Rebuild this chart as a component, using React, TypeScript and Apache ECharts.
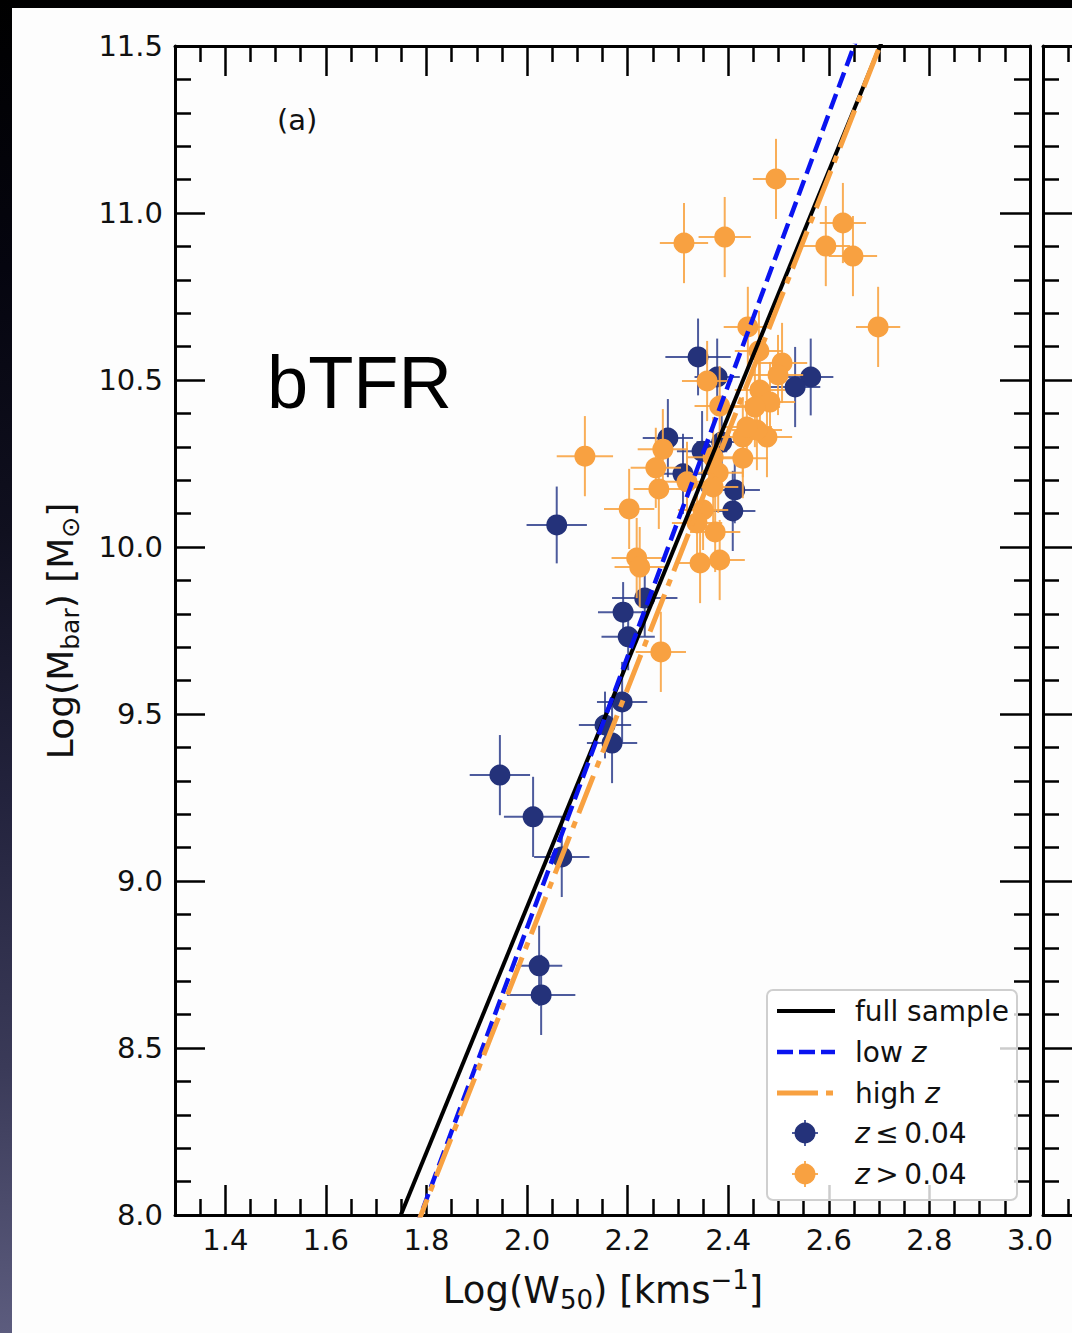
import React, { useEffect, useRef } from 'react';
import * as echarts from 'echarts';

// ---------- data ----------
const xMajorTicks = [1.4, 1.6, 1.8, 2.0, 2.2, 2.4, 2.6, 2.8, 3.0];
const xMinorTicks = [1.35, 1.45, 1.5, 1.55, 1.65, 1.7, 1.75, 1.85, 1.9, 1.95, 2.05, 2.1, 2.15, 2.25, 2.3, 2.35, 2.45, 2.5, 2.55, 2.65, 2.7, 2.75, 2.85, 2.9, 2.95];
const xMin = 1.3;
const xMax = 3.0;
// visible sliver of the neighbouring panel (b)
const panelBXMax = 1.3577;
const yMin = 8.0;
const yMax = 11.5;
const yInterval = 0.5;
const yMinorSplit = 5;

// z <= 0.04 (low z)
const lowZX = [2.059, 2.340, 2.378, 2.280, 2.348, 2.387, 2.310, 2.413, 2.409, 2.564, 2.533, 2.234, 2.191, 2.201, 2.189, 2.155, 2.169, 1.946, 2.012, 2.069, 2.024, 2.028];
const lowZY = [10.066, 10.569, 10.509, 10.326, 10.287, 10.314, 10.219, 10.171, 10.108, 10.509, 10.479, 9.847, 9.805, 9.731, 9.536, 9.467, 9.413, 9.317, 9.192, 9.072, 8.746, 8.659];
const lowZXErr = [0.060, 0.065, 0.045, 0.050, 0.050, 0.050, 0.050, 0.050, 0.045, 0.045, 0.050, 0.065, 0.050, 0.053, 0.050, 0.052, 0.050, 0.060, 0.058, 0.055, 0.046, 0.068];
const lowZYErr = [0.115, 0.115, 0.115, 0.117, 0.12, 0.12, 0.12, 0.10, 0.12, 0.115, 0.12, 0.115, 0.09, 0.10, 0.12, 0.10, 0.12, 0.12, 0.12, 0.12, 0.12, 0.12];

// z > 0.04 (high z)
const highZX = [2.495, 2.312, 2.393, 2.628, 2.594, 2.648, 2.698, 2.439, 2.461, 2.507, 2.499, 2.358, 2.383, 2.463, 2.483, 2.453, 2.429, 2.477, 2.457, 2.429, 2.380, 2.370, 2.115, 2.270, 2.256, 2.262, 2.318, 2.203, 2.218, 2.224, 2.266, 2.344, 2.383, 2.350, 2.338, 2.374, 2.437, 2.370];
const highZY = [11.102, 10.910, 10.928, 10.970, 10.901, 10.871, 10.659, 10.659, 10.587, 10.551, 10.515, 10.497, 10.422, 10.470, 10.434, 10.419, 10.329, 10.329, 10.350, 10.266, 10.222, 10.180, 10.272, 10.293, 10.237, 10.174, 10.195, 10.114, 9.967, 9.940, 9.686, 9.952, 9.961, 10.111, 10.072, 10.045, 10.359, 10.269];
const highZXErr = [0.046, 0.048, 0.052, 0.046, 0.048, 0.048, 0.044, 0.048, 0.048, 0.05, 0.05, 0.05, 0.05, 0.05, 0.05, 0.05, 0.05, 0.05, 0.05, 0.05, 0.05, 0.05, 0.056, 0.05, 0.05, 0.05, 0.05, 0.05, 0.05, 0.05, 0.05, 0.05, 0.05, 0.05, 0.05, 0.05, 0.05, 0.05];
const highZYErr = [0.12, 0.12, 0.12, 0.12, 0.12, 0.12, 0.12, 0.12, 0.12, 0.12, 0.12, 0.12, 0.12, 0.12, 0.12, 0.12, 0.12, 0.12, 0.12, 0.12, 0.12, 0.12, 0.12, 0.12, 0.12, 0.12, 0.12, 0.12, 0.12, 0.12, 0.12, 0.12, 0.12, 0.12, 0.12, 0.12, 0.12, 0.12];

// linear fits: log M = slope * log W + intercept
const fitNames = ['full sample', 'low z', 'high z'];
const fitSlopes = [3.673, 4.062, 3.836];
const fitIntercepts = [1.576, 0.736, 1.137];

// ---------- style ----------
const FONT = "'DejaVu Sans', sans-serif";
const NAVY = '#24327a';
const ORANGE = '#f8a141';
const THIN = '\u2009';

export default function App() {
  const ref = useRef<HTMLDivElement>(null);

  useEffect(() => {
    const chart = echarts.init(ref.current!, null, { renderer: 'svg' });

    const gridL = 175, gridT = 46, gridW = 855, gridH = 1169;

    const xAx = (gridIndex: number, position: string, values: number[], length: number, showLabel: boolean, showLine: boolean, max: number) => ({
      type: 'value', gridIndex, position, min: xMin, max,
      axisLine: { show: showLine, onZero: false, lineStyle: { color: '#000', width: 3 } },
      axisTick: { show: true, inside: true, length, customValues: values.filter((v) => v <= max), lineStyle: { color: '#000', width: 2.5 } },
      axisLabel: showLabel
        ? { show: true, customValues: values, formatter: (v: number) => v.toFixed(1), fontSize: 29, fontFamily: FONT, color: '#111', margin: 10 }
        : { show: false },
      splitLine: { show: false },
    });

    const yAx = (gridIndex: number, position: string, showLabel: boolean) => ({
      type: 'value', gridIndex, position, min: yMin, max: yMax, interval: yInterval,
      axisLine: { show: true, onZero: false, lineStyle: { color: '#000', width: 3 } },
      axisTick: { show: true, inside: true, length: 30, lineStyle: { color: '#000', width: 2.5 } },
      minorTick: { show: true, splitNumber: yMinorSplit, length: 16, lineStyle: { color: '#000', width: 2.5 } },
      axisLabel: showLabel
        ? { show: true, formatter: (v: number) => v.toFixed(1), fontSize: 29, fontFamily: FONT, color: '#111', margin: 12 }
        : { show: false },
      splitLine: { show: false },
      minorSplitLine: { show: false },
    });

    const errData = (xs: number[], ys: number[], xe: number[], ye: number[]) =>
      xs.map((x, i) => [x, ys[i], xe[i], ye[i]]);

    const errSeries = (data: number[][], color: string, z: number) => ({
      type: 'custom',
      xAxisIndex: 0, yAxisIndex: 0,
      z,
      data,
      encode: { x: 0, y: 1 },
      renderItem: (_p: any, api: any) => {
        const x = api.value(0), y = api.value(1), xe = api.value(2), ye = api.value(3);
        const l = api.coord([x - xe, y]);
        const r = api.coord([x + xe, y]);
        const t = api.coord([x, y + ye]);
        const b = api.coord([x, y - ye]);
        const style = { stroke: color, lineWidth: 2 };
        return {
          type: 'group',
          children: [
            { type: 'line', shape: { x1: l[0], y1: l[1], x2: r[0], y2: r[1] }, style },
            { type: 'line', shape: { x1: t[0], y1: t[1], x2: b[0], y2: b[1] }, style },
          ],
        };
      },
    });

    const fitColors = ['#000000', '#0a14f0', ORANGE];
    const fitWidths = [4, 4.5, 5];
    const fitDash: any[] = ['solid', [16, 7], [40, 9, 7, 9]];

    const fitSeries = fitNames.map((name, i) => ({
      type: 'line',
      name,
      xAxisIndex: 0, yAxisIndex: 0,
      z: 10 + i,
      symbol: 'none',
      clip: true,
      data: [xMin, xMax].map((x) => [x, fitSlopes[i] * x + fitIntercepts[i]]),
      lineStyle: { color: fitColors[i], width: fitWidths[i], type: fitDash[i], cap: 'butt' },
    }));

    const legX = 767, legY = 990;
    const legendText = (y: number, text: string) => ({
      type: 'text', x: 855, y, z: 101,
      style: {
        text, fontSize: 28, fontFamily: FONT, fill: '#111', verticalAlign: 'middle', align: 'left',
        rich: { i: { fontStyle: 'italic', fontSize: 28, fontFamily: FONT, fill: '#111' } },
      },
    });
    const legendMarker = (y: number, color: string, errColor: string) => ([
      { type: 'line', z: 101, shape: { x1: 792, y1: y, x2: 818, y2: y }, style: { stroke: errColor, lineWidth: 2 } },
      { type: 'line', z: 101, shape: { x1: 805, y1: y - 13, x2: 805, y2: y + 13 }, style: { stroke: errColor, lineWidth: 2 } },
      { type: 'circle', z: 102, shape: { cx: 805, cy: y, r: 10.5 }, style: { fill: color } },
    ]);

    const option: any = {
      animation: false,
      backgroundColor: 'transparent',
      grid: [
        { left: gridL, top: gridT, width: gridW, height: gridH },
        { left: 1043, top: gridT, right: 0, height: gridH },
      ],
      xAxis: [
        xAx(0, 'bottom', xMajorTicks, 30, true, true, xMax),
        xAx(0, 'bottom', xMinorTicks, 16, false, false, xMax),
        xAx(0, 'top', xMajorTicks, 30, false, true, xMax),
        xAx(0, 'top', xMinorTicks, 16, false, false, xMax),
        xAx(1, 'bottom', xMajorTicks, 30, false, true, panelBXMax),
        xAx(1, 'bottom', xMinorTicks, 16, false, false, panelBXMax),
        xAx(1, 'top', xMajorTicks, 30, false, true, panelBXMax),
        xAx(1, 'top', xMinorTicks, 16, false, false, panelBXMax),
      ],
      yAxis: [
        yAx(0, 'left', true),
        yAx(0, 'right', false),
        yAx(1, 'left', false),
      ],
      series: [
        errSeries(errData(lowZX, lowZY, lowZXErr, lowZYErr), 'rgba(46,62,140,0.85)', 2),
        {
          type: 'scatter', name: 'z ≤ 0.04', xAxisIndex: 0, yAxisIndex: 0, z: 3,
          symbol: 'circle', symbolSize: 21,
          itemStyle: { color: NAVY, opacity: 1 },
          data: lowZX.map((x, i) => [x, lowZY[i]]),
        },
        errSeries(errData(highZX, highZY, highZXErr, highZYErr), 'rgba(248,165,70,0.9)', 4),
        {
          type: 'scatter', name: 'z > 0.04', xAxisIndex: 0, yAxisIndex: 0, z: 5,
          symbol: 'circle', symbolSize: 21,
          itemStyle: { color: ORANGE, opacity: 1 },
          data: highZX.map((x, i) => [x, highZY[i]]),
        },
        ...fitSeries,
      ],
      graphic: [
        { type: 'rect', z: -100, silent: true, shape: { x: 12, y: 8, width: 1060, height: 1325 }, style: { fill: '#fdfdfd' } },
        { type: 'text', x: 277, y: 120, z: 50, style: { text: '(a)', fontSize: 29, fontFamily: FONT, fill: '#111', verticalAlign: 'middle' } },
        { type: 'text', x: 267, y: 382, z: 50, style: { text: 'bTFR', fontSize: 74, fontFamily: "'Liberation Sans', Arial, sans-serif", fill: '#000', verticalAlign: 'middle' } },
        {
          type: 'text', x: 603, y: 1290, z: 50,
          style: {
            text: '{n|Log(W}{sub|50}{n|) [kms}{sup|−1}{n|]}',
            align: 'center', verticalAlign: 'middle', fill: '#111', fontFamily: FONT, fontSize: 37,
            rich: {
              n: { fontSize: 37, fontFamily: FONT, fill: '#111', lineHeight: 46, verticalAlign: 'middle' },
              sub: { fontSize: 26, fontFamily: FONT, fill: '#111', lineHeight: 25, verticalAlign: 'bottom' },
              sup: { fontSize: 26, fontFamily: FONT, fill: '#111', lineHeight: 25, verticalAlign: 'top' },
            },
          },
        },
        {
          type: 'text', x: 60, y: 631, z: 50, rotation: Math.PI / 2,
          style: {
            text: '{n|Log(M}{sub|bar}{n|) [M}{sub|⊙}{n|]}',
            align: 'center', verticalAlign: 'middle', fill: '#111', fontFamily: FONT, fontSize: 36,
            rich: {
              n: { fontSize: 36, fontFamily: FONT, fill: '#111', lineHeight: 46, verticalAlign: 'middle' },
              sub: { fontSize: 25, fontFamily: FONT, fill: '#111', lineHeight: 25, verticalAlign: 'bottom' },
            },
          },
        },
        // legend
        { type: 'rect', z: 100, shape: { x: legX, y: legY, width: 250, height: 210, r: 6 }, style: { fill: 'rgba(255,255,255,0.8)', stroke: '#cfcfcf', lineWidth: 2 } },
        { type: 'line', z: 101, shape: { x1: 777, y1: 1011, x2: 835, y2: 1011 }, style: { stroke: '#000', lineWidth: 4 } },
        { type: 'line', z: 101, shape: { x1: 777, y1: 1052, x2: 835, y2: 1052 }, style: { stroke: '#0a14f0', lineWidth: 4.5, lineDash: [16, 6] } },
        { type: 'line', z: 101, shape: { x1: 777, y1: 1093, x2: 835, y2: 1093 }, style: { stroke: ORANGE, lineWidth: 5, lineDash: [41, 8, 7, 8] } },
        ...legendMarker(1133, NAVY, 'rgba(46,62,140,0.85)'),
        ...legendMarker(1174, ORANGE, 'rgba(248,165,70,0.9)'),
        legendText(1011, fitNames[0]),
        legendText(1052, 'low {i|z}'),
        legendText(1093, 'high {i|z}'),
        legendText(1133, `{i|z}${THIN}≤${THIN}0.04`),
        legendText(1174, `{i|z}${THIN}>${THIN}0.04`),
      ],
    };

    chart.setOption(option);
    return () => chart.dispose();
  }, []);

  return (
    <div
      style={{
        position: 'absolute', left: 0, top: 0, width: 1072, height: 1333,
        background: 'linear-gradient(180deg, #000000 0%, #05050f 20%, #10101f 40%, #23233d 60%, #3a3a58 80%, #5c5c7e 100%)',
      }}
    >
      <div ref={ref} style={{ width: 1072, height: 1333 }} />
    </div>
  );
}
